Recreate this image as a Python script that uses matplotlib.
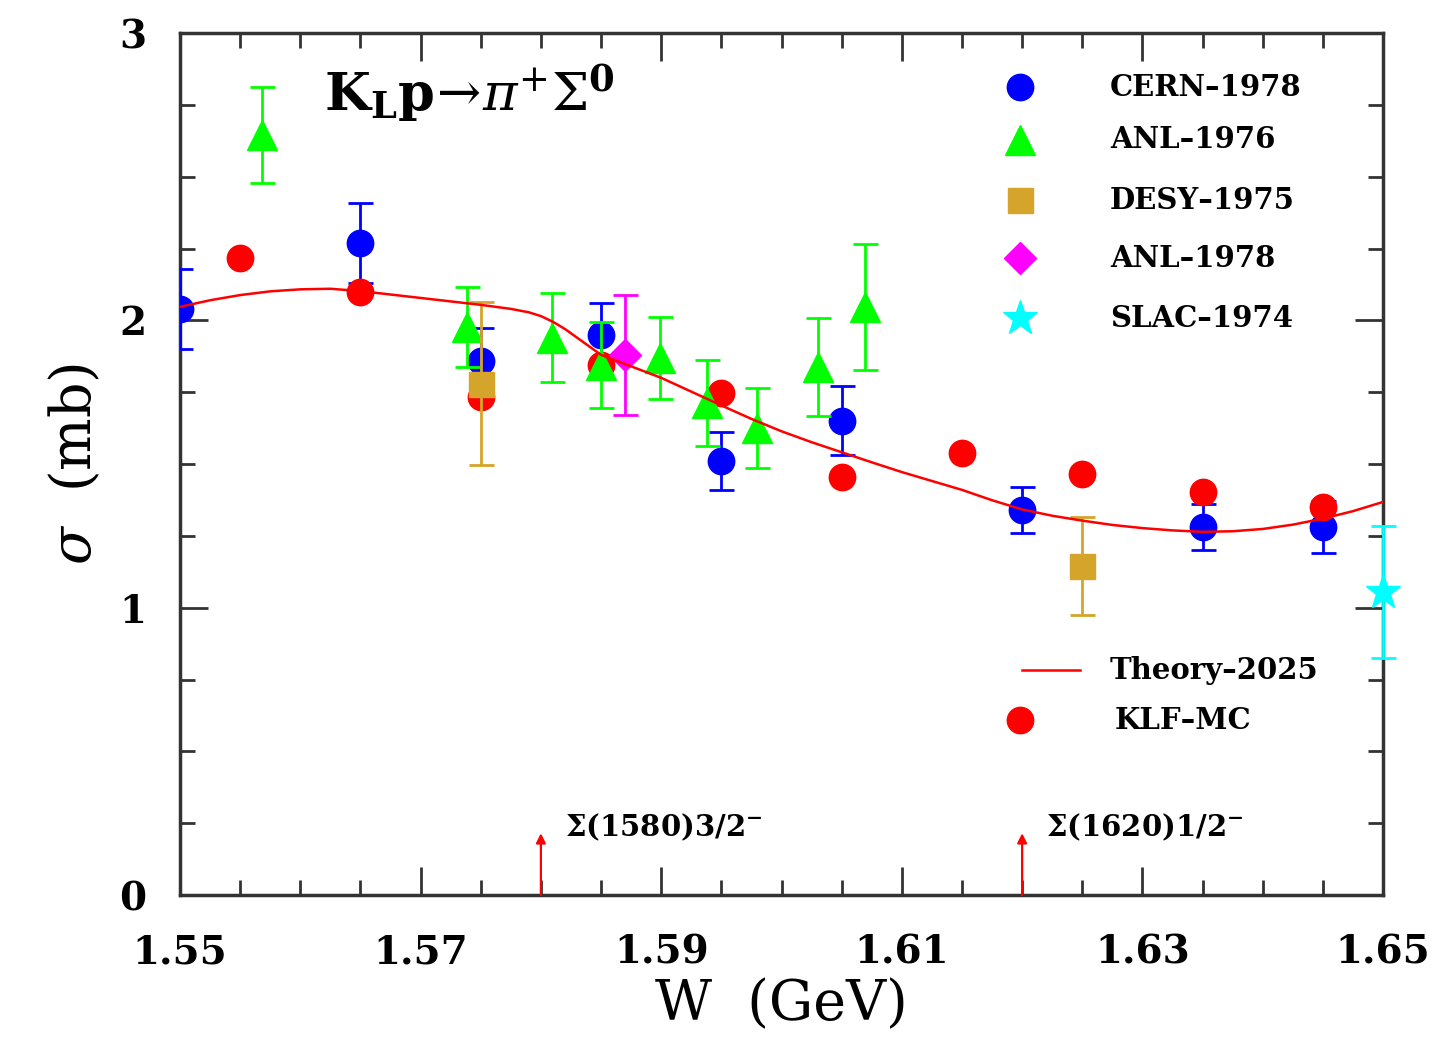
import numpy as np
import matplotlib
matplotlib.use("Agg")
import matplotlib.pyplot as plt
from matplotlib.ticker import MultipleLocator, FixedLocator

# ---------------- data ----------------
cern_W = [1.550, 1.565, 1.575, 1.585, 1.595, 1.605, 1.620, 1.635, 1.645]
cern_sig = [2.04, 2.27, 1.86, 1.95, 1.51, 1.65, 1.34, 1.28, 1.28]
cern_err = [0.14, 0.14, 0.115, 0.11, 0.10, 0.12, 0.08, 0.08, 0.09]

anl76_W = [1.5568, 1.5739, 1.5809, 1.585, 1.5899, 1.5938, 1.598, 1.603, 1.6069]
anl76_sig = [2.645, 1.977, 1.939, 1.845, 1.869, 1.712, 1.625, 1.838, 2.047]
anl76_err = [0.167, 0.14, 0.155, 0.15, 0.143, 0.15, 0.14, 0.17, 0.22]

desy_W = [1.575, 1.625]
desy_sig = [1.78, 1.145]
desy_err = [0.285, 0.17]

anl78_W = [1.587]
anl78_sig = [1.88]
anl78_err = [0.21]

slac_W = [1.650]
slac_sig = [1.055]
slac_err = [0.23]

klf_W = [1.555, 1.565, 1.575, 1.585, 1.595, 1.605, 1.615, 1.625, 1.635, 1.645]
klf_sig = [2.217, 2.099, 1.733, 1.845, 1.747, 1.455, 1.538, 1.465, 1.403, 1.351]

theory_W = [1.550, 1.5525, 1.555, 1.5575, 1.560, 1.5625, 1.565, 1.5675, 1.570,
            1.5725, 1.575, 1.5775, 1.579, 1.580, 1.581, 1.582, 1.5835, 1.585,
            1.5875, 1.590, 1.5925, 1.595, 1.5975, 1.600, 1.6025, 1.605, 1.6075,
            1.610, 1.6125, 1.615, 1.6175, 1.620, 1.6225, 1.625, 1.6275, 1.630,
            1.6325, 1.635, 1.6375, 1.640, 1.6425, 1.645, 1.6475, 1.650]
theory_sig = [2.047, 2.070, 2.088, 2.101, 2.108, 2.110, 2.102, 2.090, 2.078,
              2.066, 2.054, 2.040, 2.028, 2.015, 1.995, 1.970, 1.925, 1.880,
              1.840, 1.800, 1.752, 1.704, 1.657, 1.614, 1.576, 1.541, 1.506,
              1.472, 1.441, 1.410, 1.374, 1.342, 1.320, 1.303, 1.288, 1.277,
              1.269, 1.264, 1.266, 1.274, 1.289, 1.310, 1.336, 1.368]

resonance_W = [1.58, 1.62]
resonance_labels = [r"$\mathbf{\Sigma}$(1580)3/2$^{\mathbf{-}}$",
                    r"$\mathbf{\Sigma}$(1620)1/2$^{\mathbf{-}}$"]

legend_labels = ["CERN–1978", "ANL–1976", "DESY–1975", "ANL–1978", "SLAC–1974"]

# ---------------- style ----------------
plt.rcParams['font.family'] = ['DejaVu Serif', 'DejaVu Sans']
plt.rcParams['mathtext.fontset'] = 'dejavuserif'

fig = plt.figure(figsize=(14.35, 10.49), dpi=100)
ax = fig.add_axes([0.1254, 0.1468, 0.8384, 0.8217])

BLUE = '#0000ff'
GREEN = '#00ff00'
GOLD = '#d4a52a'
MAG = '#ff00ff'
CYAN = '#00ffff'
RED = '#ff0000'

ebkw = dict(linestyle='none', capsize=9, elinewidth=2.0, capthick=2.0)

ax.errorbar(cern_W, cern_sig, yerr=cern_err, marker='o', ms=19, color=BLUE,
            ecolor=BLUE, zorder=3, **ebkw)
ax.plot(klf_W, klf_sig, 'o', ms=19, color=RED, zorder=4, linestyle='none')
ax.errorbar(anl76_W, anl76_sig, yerr=anl76_err, marker='^', ms=21, color=GREEN,
            ecolor=GREEN, zorder=5, **ebkw)
ax.errorbar(desy_W, desy_sig, yerr=desy_err, marker='s', ms=18, color=GOLD,
            ecolor=GOLD, zorder=6, **ebkw)
ax.errorbar(anl78_W, anl78_sig, yerr=anl78_err, marker='D', ms=16, color=MAG,
            ecolor=MAG, zorder=7, **ebkw)
ax.errorbar(slac_W, slac_sig, yerr=slac_err, marker='*', ms=26, color=CYAN,
            ecolor=CYAN, zorder=8, clip_on=False, **ebkw)
ax.plot(theory_W, theory_sig, '-', color=RED, lw=1.8, zorder=9)

# resonance arrows
for w, lab in zip(resonance_W, resonance_labels):
    ax.annotate('', xy=(w, 0.215), xytext=(w, 0.0),
                arrowprops=dict(arrowstyle='-|>', color=RED, lw=1.6,
                                mutation_scale=14, shrinkA=0, shrinkB=0),
                zorder=10)
    ax.text(w + 0.0020, 0.235, lab, fontsize=21, fontweight='bold',
            ha='left', va='center')

# reaction label
ax.text(0.12, 0.93,
        r"$\mathbf{K}_{\mathbf{L}}\mathbf{p}\!\rightarrow\!\pi^{+}\Sigma^{\mathbf{0}}$",
        transform=ax.transAxes, fontsize=38, ha='left', va='center')

# manual legend
leg_markers = [('o', BLUE, 19), ('^', GREEN, 21), ('s', GOLD, 18),
               ('D', MAG, 16), ('*', CYAN, 26)]
leg_y = [0.937, 0.876, 0.806, 0.739, 0.669]
for (m, c, s), yy, lab in zip(leg_markers, leg_y, legend_labels):
    ax.plot([0.698], [yy], marker=m, color=c, ms=s, transform=ax.transAxes,
            linestyle='none', clip_on=False)
    ax.text(0.773, yy, lab, transform=ax.transAxes, fontsize=21,
            fontweight='bold', ha='left', va='center')
ax.plot([0.700, 0.748], [0.261, 0.261], '-', color=RED, lw=1.8,
        transform=ax.transAxes)
ax.text(0.773, 0.261, "Theory–2025", transform=ax.transAxes, fontsize=21,
        fontweight='bold', ha='left', va='center')
ax.plot([0.698], [0.203], 'o', color=RED, ms=19, transform=ax.transAxes)
ax.text(0.777, 0.203, "KLF–MC", transform=ax.transAxes, fontsize=21,
        fontweight='bold', ha='left', va='center')

# axes
ax.set_xlim(1.55, 1.65)
ax.set_ylim(0, 3)
ax.xaxis.set_major_locator(FixedLocator([1.55, 1.57, 1.59, 1.61, 1.63, 1.65]))
ax.xaxis.set_minor_locator(MultipleLocator(0.005))
ax.yaxis.set_major_locator(MultipleLocator(1))
ax.yaxis.set_minor_locator(MultipleLocator(0.25))
ax.set_xticklabels(["1.55", "1.57", "1.59", "1.61", "1.63", "1.65"])
for spine in ax.spines.values():
    spine.set_linewidth(2.5)
    spine.set_color('#333333')
ax.tick_params(which='both', direction='in', top=True, right=True,
               color='#333333', width=2)
ax.tick_params(which='major', length=20, labelsize=28)
ax.tick_params(axis='x', which='major', pad=28)
ax.tick_params(axis='y', which='major', pad=24)
ax.tick_params(which='minor', length=11)
for lab in ax.get_xticklabels() + ax.get_yticklabels():
    lab.set_fontweight('bold')

ax.set_xlabel("W  (GeV)", fontsize=40, labelpad=4)
ax.set_ylabel(r"$\sigma$  (mb)", fontsize=40, labelpad=12)

fig.savefig("out.png", dpi=100)
